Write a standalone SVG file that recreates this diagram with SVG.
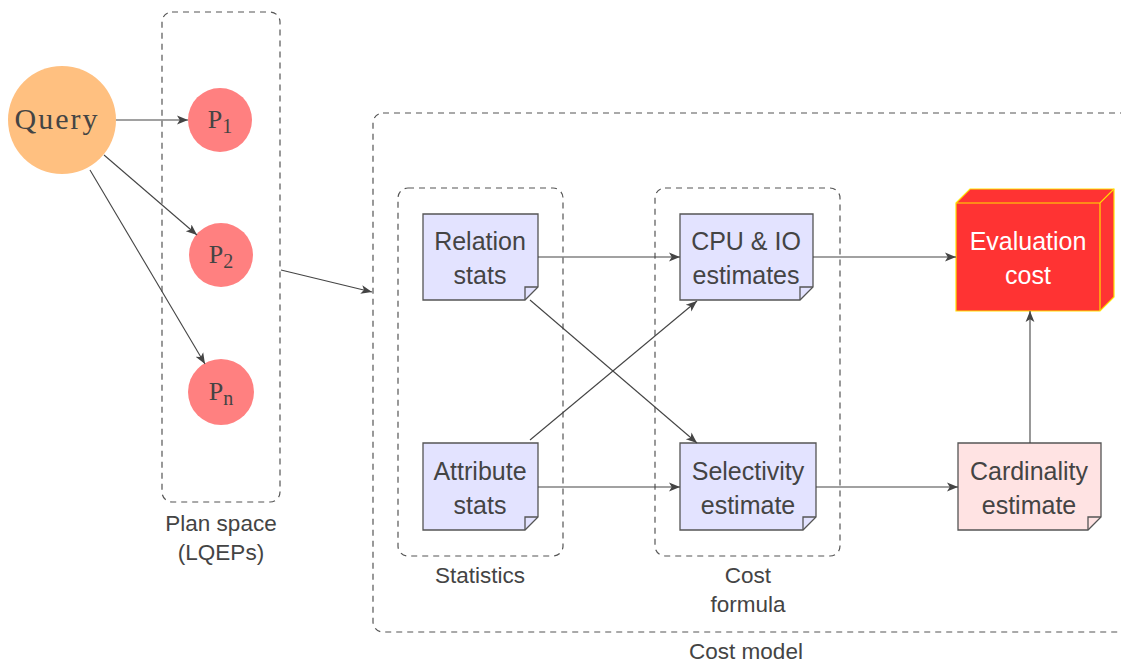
<svg xmlns="http://www.w3.org/2000/svg" width="1121" height="662" viewBox="0 0 1121 662">
<style>
.box{fill:none;stroke:#555;stroke-width:1.2;stroke-dasharray:6,5}
.note{fill:#E3E3FF;stroke:#555;stroke-width:1.3}
.fold{fill:none;stroke:#555;stroke-width:1.3}
.t{font-family:"Liberation Sans",Arial,sans-serif;font-size:25px;fill:#444;text-anchor:middle}
.lbl{font-family:"Liberation Sans",Arial,sans-serif;font-size:22.5px;fill:#444;text-anchor:middle}
.m{font-family:"Liberation Serif","DejaVu Serif",serif;fill:#444;text-anchor:middle}
.c{fill:none;stroke:#444;stroke-width:1.1;marker-end:url(#ah)}
</style>
<defs>
<marker id="ah" viewBox="0 0 10 10" refX="10" refY="5" markerWidth="11" markerHeight="11" markerUnits="userSpaceOnUse" orient="auto">
<path d="M0,1 L10,5 L0,9 L2.5,5 Z" fill="#444"/>
</marker>
</defs>
<rect width="1121" height="662" fill="#fff"/>
<g id="plan-space">
<rect class="box" x="162" y="12" width="118" height="490" rx="10"/>
<text class="lbl" x="221" y="531">Plan space</text>
<text class="lbl" x="221" y="560">(LQEPs)</text>
</g>
<g id="cost-model">
<rect class="box" x="373" y="113" width="760" height="519" rx="10"/>
<text class="lbl" x="746" y="659">Cost model</text>
</g>
<g id="statistics">
<rect class="box" x="398" y="188" width="165" height="368" rx="10"/>
<text class="lbl" x="480" y="583">Statistics</text>
</g>
<g id="cost-formula">
<rect class="box" x="655" y="188" width="185" height="368" rx="10"/>
<text class="lbl" x="748" y="583">Cost</text>
<text class="lbl" x="748" y="612">formula</text>
</g>
<g id="query">
<circle cx="62" cy="120" r="54" fill="#FFC080"/>
<text class="m" x="57" y="129" font-size="30" letter-spacing="2">Query</text>
</g>
<g id="p1">
<circle cx="220" cy="120" r="32" fill="#FF8080"/>
<text class="m" x="220" y="128" font-size="26">P<tspan font-size="20" dy="5">1</tspan></text>
</g>
<g id="p2">
<circle cx="221" cy="255" r="32" fill="#FF8080"/>
<text class="m" x="221" y="263" font-size="26">P<tspan font-size="20" dy="5">2</tspan></text>
</g>
<g id="pn">
<circle cx="221" cy="392" r="33" fill="#FF8080"/>
<text class="m" x="221" y="400" font-size="26">P<tspan font-size="20" dy="5">n</tspan></text>
</g>
<g id="relation-stats">
<path class="note" d="M423,214 H538 V287 L525,300 H423 Z"/>
<path class="fold" d="M525,300 V287 H538"/>
<text class="t" x="480" y="250">Relation</text>
<text class="t" x="480" y="284">stats</text>
</g>
<g id="attribute-stats">
<path class="note" d="M423,443 H538 V517 L525,530 H423 Z"/>
<path class="fold" d="M525,530 V517 H538"/>
<text class="t" x="480" y="480">Attribute</text>
<text class="t" x="480" y="514">stats</text>
</g>
<g id="cpu-io">
<path class="note" d="M680,214 H813 V287 L800,300 H680 Z"/>
<path class="fold" d="M800,300 V287 H813"/>
<text class="t" x="746" y="250">CPU &amp; IO</text>
<text class="t" x="746" y="284">estimates</text>
</g>
<g id="selectivity">
<path class="note" d="M680,443 H816 V517 L803,530 H680 Z"/>
<path class="fold" d="M803,530 V517 H816"/>
<text class="t" x="748" y="480">Selectivity</text>
<text class="t" x="748" y="514">estimate</text>
</g>
<g id="cardinality">
<path class="note" d="M958,443 H1101 V517 L1088,530 H958 Z" style="fill:#FFE3E3"/>
<path class="fold" d="M1088,530 V517 H1101"/>
<text class="t" x="1029" y="480">Cardinality</text>
<text class="t" x="1029" y="514">estimate</text>
</g>
<g id="evaluation-cost">
<path d="M956,203 L970,189 H1114 V297 L1100,311 H956 Z" fill="#FF3333" stroke="#FFE000" stroke-width="1.2"/>
<path d="M956,203 H1100 L1114,189 M1100,203 V311" fill="none" stroke="#FFE000" stroke-width="1.2"/>
<text class="t" x="1028" y="250" style="fill:#fff">Evaluation</text>
<text class="t" x="1028" y="284" style="fill:#fff">cost</text>
</g>
<g id="connectors">
<line class="c" x1="116" y1="120" x2="188" y2="120"/>
<line class="c" x1="104" y1="155" x2="197" y2="235"/>
<line class="c" x1="90" y1="170" x2="205" y2="364"/>
<line class="c" x1="281" y1="270" x2="372" y2="292"/>
<line class="c" x1="538" y1="257" x2="680" y2="257"/>
<line class="c" x1="530" y1="300" x2="697" y2="443"/>
<line class="c" x1="530" y1="440" x2="697" y2="301"/>
<line class="c" x1="538" y1="487" x2="680" y2="487"/>
<line class="c" x1="813" y1="257" x2="956" y2="257"/>
<line class="c" x1="816" y1="487" x2="958" y2="487"/>
<line class="c" x1="1030" y1="443" x2="1030" y2="311"/>
</g>
</svg>
